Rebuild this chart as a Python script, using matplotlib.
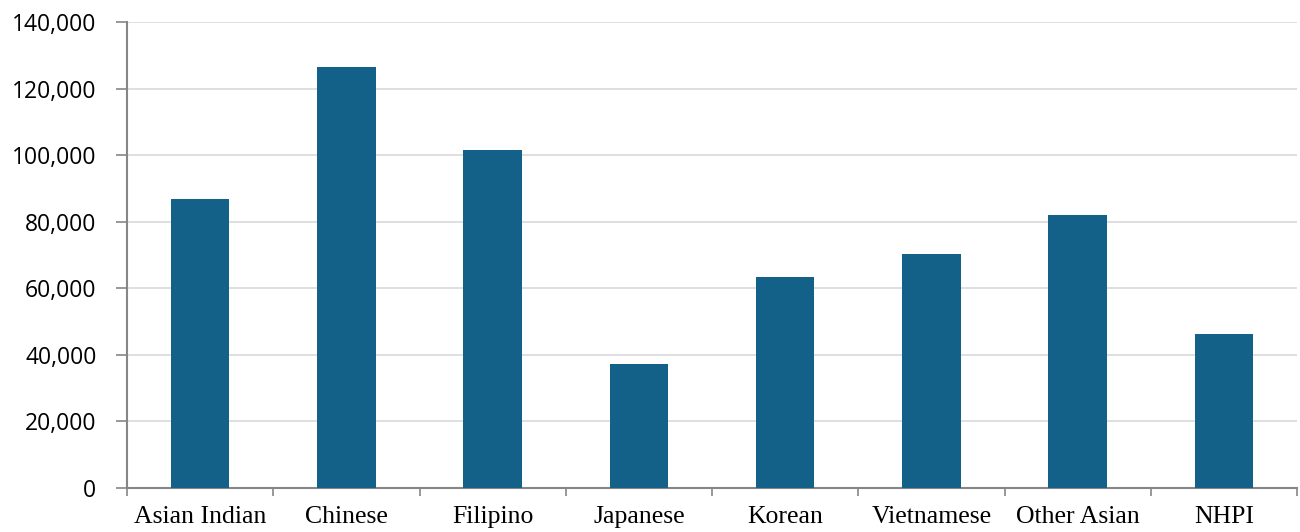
import matplotlib
matplotlib.use("Agg")
import matplotlib.pyplot as plt
import numpy as np
from matplotlib.ticker import FuncFormatter, FixedLocator

categories = ["Asian Indian", "Chinese", "Filipino", "Japanese",
              "Korean", "Vietnamese", "Other Asian", "NHPI"]
values = [86800, 126500, 101500, 37300, 63400, 70400, 81900, 46300]
yticks = [0, 20000, 40000, 60000, 80000, 100000, 120000, 140000]

fig = plt.figure(figsize=(13, 5.32), dpi=100)
ax = fig.add_axes([0.0977, 0.0827, 0.9, 0.8759])

x = np.arange(len(categories))
ax.bar(x, values, width=0.4, color="#136189", zorder=3)

ax.set_xlim(-0.5, len(categories) - 0.5)
ax.set_ylim(0, 140000)
ax.set_yticks(yticks)
ax.yaxis.set_major_formatter(FuncFormatter(lambda v, p: f"{int(v):,}"))
ax.grid(axis="y", color="#d9d9d9", linewidth=1.2, zorder=0)

# category labels centred, ticks between categories
ax.xaxis.set_major_locator(FixedLocator(np.arange(-0.5, len(categories), 1)))
ax.xaxis.set_major_formatter(FuncFormatter(lambda v, p: ""))
ax.xaxis.set_minor_locator(FixedLocator(x))
ax.set_xticklabels(categories, minor=True)
ax.tick_params(axis="x", which="minor", length=0, pad=13,
               labelsize=18.5, labelfontfamily="Liberation Serif")
ax.tick_params(axis="x", which="major", length=6, color="#868686", width=1.2)
ax.tick_params(axis="y", length=8, color="#868686", width=1.2, pad=14,
               labelsize=16.5, labelfontfamily="Open Sans")

for s in ["top", "right"]:
    ax.spines[s].set_visible(False)
for s in ["left", "bottom"]:
    ax.spines[s].set_color("#868686")
    ax.spines[s].set_linewidth(1.5)

fig.savefig("out.png", dpi=100)
